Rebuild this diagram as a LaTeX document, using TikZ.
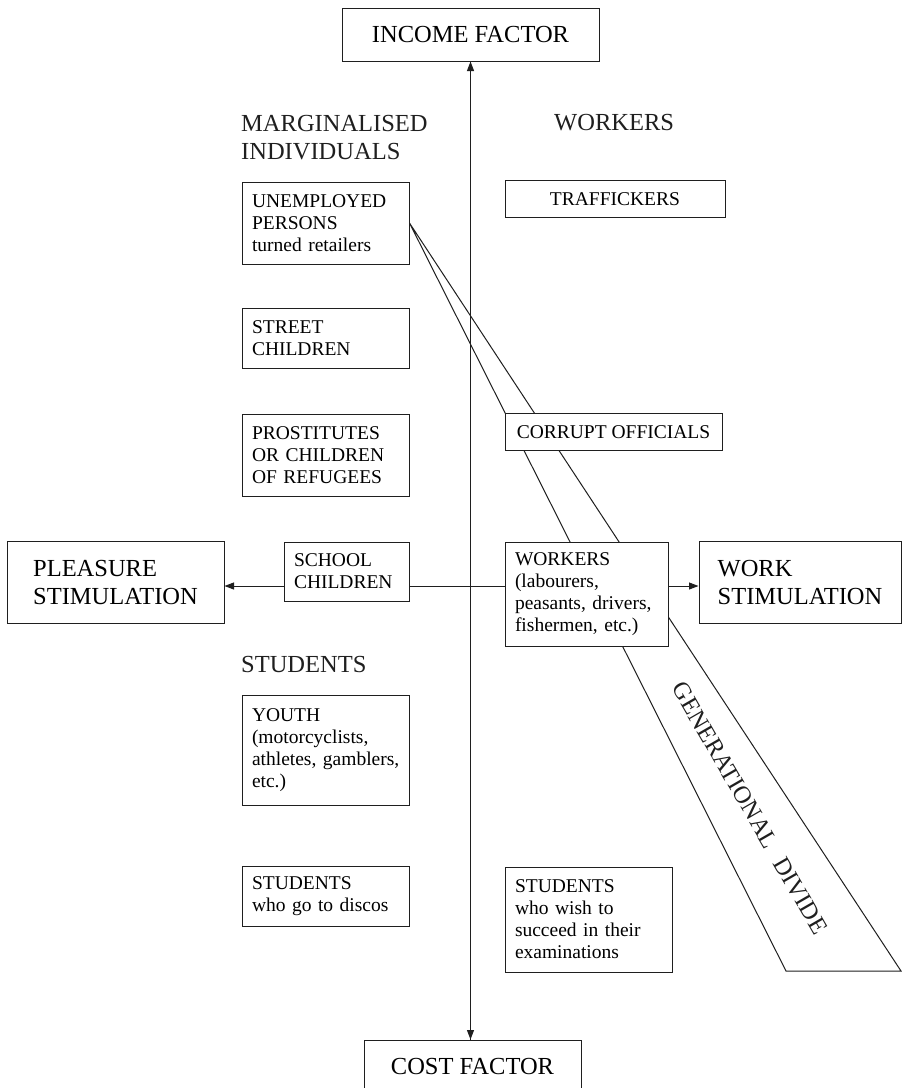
\documentclass[tikz,border=0pt]{standalone}
\usepackage{fontspec}
\setmainfont{Liberation Serif}
\usetikzlibrary{arrows.meta}
\newcommand{\labfont}{\fontsize{24.5}{28}\selectfont}
\newcommand{\boxfont}{\fontsize{19.5}{22}\selectfont\hyphenpenalty=10000\exhyphenpenalty=10000}
\hyphenpenalty=10000
\exhyphenpenalty=10000
\begin{document}
\begin{tikzpicture}[x=1pt,y=-1pt,
  ln/.style={line width=1pt, draw=black!88},
  arr/.style={ln, -{Triangle[length=9.5pt,width=7pt]}},
  lbox/.style={draw=black!88, fill=white, line width=1pt, font=\boxfont, align=left, inner xsep=10pt, inner ysep=0pt},
  cbox/.style={draw=black!88, fill=white, line width=1pt, inner sep=0pt, align=center},
  lab/.style={font=\labfont, inner sep=0pt, align=left, text=black!88}]
\fill[white] (0,0) rectangle (902,1088);
\useasboundingbox (0,0) rectangle (902,1088);

% boxes
\node[cbox, font=\labfont, minimum width=257pt, minimum height=53pt] (income) at (470.5,34.5) {INCOME FACTOR};
\node[cbox, font=\labfont, minimum width=217pt, minimum height=53pt] (cost) at (472.5,1066.5) {COST FACTOR};

\node[lbox, minimum width=167pt, minimum height=82pt, text width=147pt] (unemp) at (325.5,223) {UNEMPLOYED\\PERSONS\\turned~retailers};

% generational divide band
\coordinate (bandL) at (786,971);
\coordinate (bandR) at (901,971);
\draw[ln, line join=miter] (unemp.east) -- (bandL) -- (bandR) -- cycle;

% axes
\coordinate (hy) at (0,586);
\draw[arr] (income.south |- cost.north) -- (income.south);
\draw[arr] (income.south) -- (income.south |- cost.north);

\node[cbox, font=\labfont, align=left, minimum width=217pt, minimum height=82pt] (pleasure) at (115.5,582) {PLEASURE\\STIMULATION};
\node[cbox, font=\labfont, align=left, minimum width=202pt, minimum height=82pt] (workstim) at (800,582) {WORK\\STIMULATION};
\node[lbox, minimum width=125pt, minimum height=59pt, text width=105pt] (school) at (346.5,571.5) {SCHOOL\\CHILDREN};
\node[lbox, minimum width=163pt, minimum height=104pt, text width=143pt] (workers) at (586.5,594) {WORKERS\\(labourers,\\peasants,~drivers,\\fishermen,~etc.)};

\draw[arr] (school.west |- hy) -- (pleasure.east |- hy);
\draw[ln] (school.east |- hy) -- (workers.west |- hy);
\draw[arr] (workers.east |- hy) -- (workstim.west |- hy);

\node[cbox, font=\boxfont, minimum width=220pt, minimum height=37pt] (traff) at (615,199) {TRAFFICKERS};
\node[cbox, font=\boxfont, minimum width=217pt, minimum height=37pt] (corrupt) at (613.5,432) {CORRUPT~OFFICIALS};
\node[lbox, minimum width=167pt, minimum height=60pt, text width=147pt] (street) at (325.5,338) {STREET\\CHILDREN};
\node[lbox, minimum width=167pt, minimum height=82pt, text width=147pt] (prost) at (325.5,455) {PROSTITUTES\\OR~CHILDREN\\OF~REFUGEES};
\node[lbox, minimum width=167pt, minimum height=110pt, text width=147pt] (youth) at (325.5,750) {YOUTH\\(motorcyclists,\\athletes,~gamblers,\\etc.)};
\node[lbox, minimum width=167pt, minimum height=60pt, text width=147pt] (discos) at (325.5,896.5) {STUDENTS\\who~go~to~discos};
\node[lbox, minimum width=167pt, minimum height=105pt, text width=147pt] (exams) at (588.5,919.5) {STUDENTS\\who~wish~to\\succeed~in~their\\examinations};

% group labels
\node[lab, anchor=base west] (marg) at (241,159) {MARGINALISED\\INDIVIDUALS};
\node[lab, anchor=base west] (wlab) at (554,130) {WORKERS};
\node[lab, anchor=base west] (slab) at (241,672) {STUDENTS};
\node[lab, rotate=-60] (gen) at (750,808) {GENERATIONAL\hspace{0.35em} DIVIDE};
\end{tikzpicture}
\end{document}
